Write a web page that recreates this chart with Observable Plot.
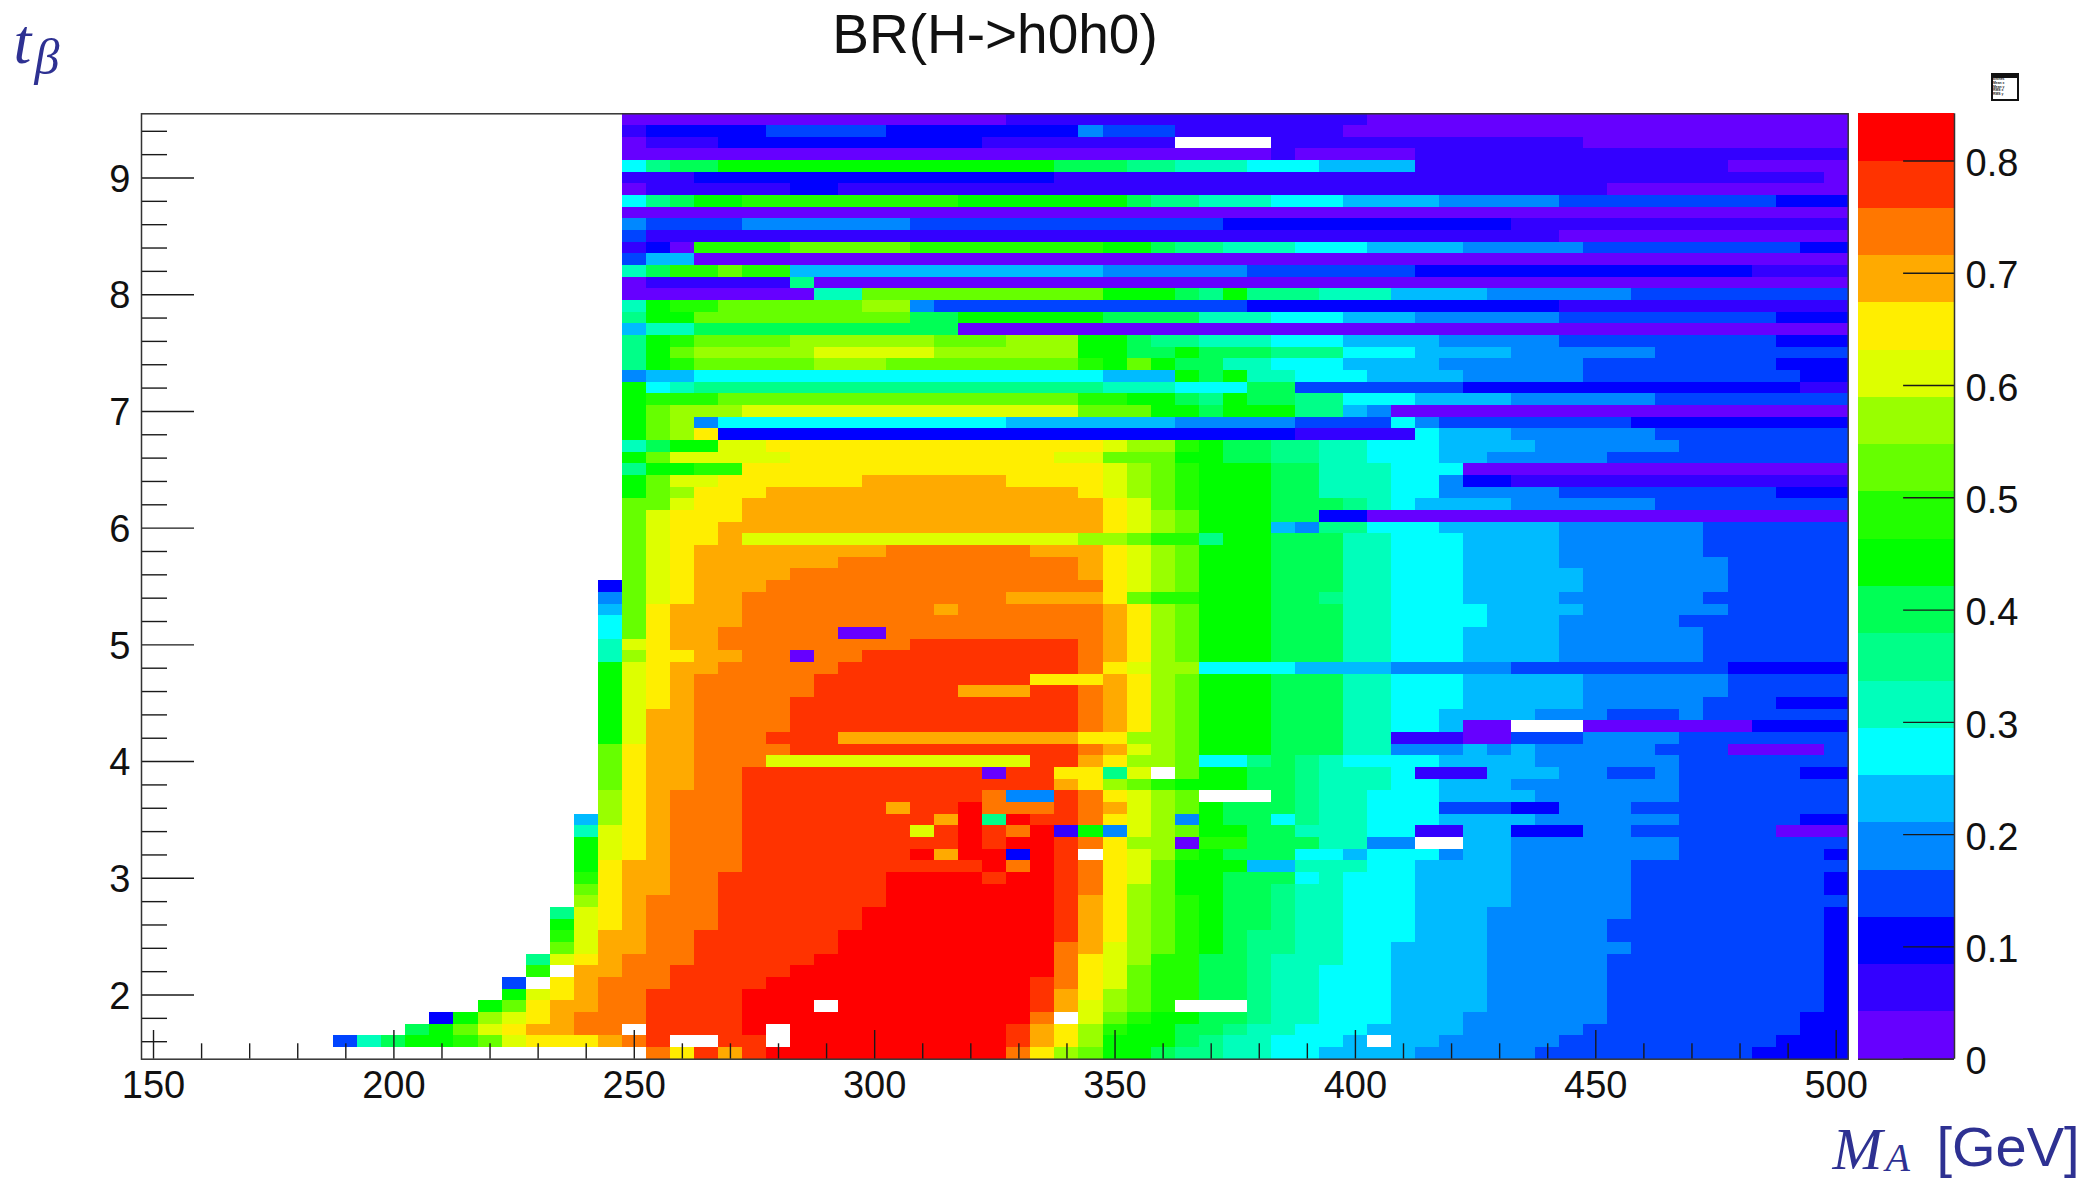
<!DOCTYPE html>
<html><head><meta charset="utf-8">
<script src="https://cdn.jsdelivr.net/npm/d3@7"></script>
<script src="https://cdn.jsdelivr.net/npm/@observablehq/plot@0.6"></script>
<style>
html,body{margin:0;padding:0;background:#fff}
#wrap{position:relative;width:2089px;height:1180px;overflow:hidden}
#wrap svg{position:absolute;top:0}
#stats{position:absolute;left:1991px;top:73px;width:24px;height:24px;border:2px solid #111;background:#fff;font:bold 3.4px "Liberation Sans";line-height:3.8px;color:#222;overflow:hidden}
#stats b{display:block;background:#111;height:3px}
</style></head><body><div id="wrap"></div>
<script>
// BR(H->h0h0): colour level per bin, run-length coded as "firstColumn:level"; "." = empty bin.
const massBins = d3.range(0,71).map(i=>150+5*i);
const tanBetaTop = 9.5, tanBetaStep = 0.1;
const nLevels = 20, brMax = 0.842;
const palette = ["#6600ff","#3300ff","#0000ff","#0044ff","#0088ff","#00bbff","#00ffff","#00ffbb","#00ff88","#00ff55",
"#00ff00","#22ff00","#66ff00","#99ff00","#ddff00","#ffee00","#ffaa00","#ff7700","#ff3300","#ff0000"];
const rows = [
"20:0 36:1 51:0",
"20:1 21:2 26:3 31:2 39:4 40:3 43:1 50:0",
"20:0 21:1 24:2 35:1 43:. 47:1 60:0",
"20:0 47:1 48:0 53:1",
"20:6 21:8 22:9 24:10 38:9 41:8 43:7 46:6 49:5 53:1 66:0",
"20:1 23:2 38:1 70:0",
"20:0 21:1 27:2 29:1 61:0",
"20:6 21:8 22:9 23:10 25:11 34:10 41:9 42:8 44:7 47:6 50:5 54:4 59:3 68:2",
"20:0",
"20:4 21:3 25:4 32:3 45:2 57:1",
"20:3 21:1 59:0",
"20:1 21:2 22:0 23:11 27:12 32:11 40:10 42:9 43:8 45:7 48:6 51:5 55:4 60:3 69:2",
"20:3 21:5 23:0",
"20:7 21:9 22:11 24:12 25:11 27:5 40:4 46:3 53:2 67:1",
"20:0 21:1 27:8 28:0",
"20:0 28:7 30:12 40:10 43:9 44:8 45:10 46:8 49:7 52:5 56:4 62:3",
"20:7 21:10 22:11 24:12 30:13 32:4 33:3 46:2 59:1",
"20:8 21:10 23:12 32:9 34:10 40:9 44:7 47:6 50:5 53:4 59:3 68:2",
"20:5 21:7 23:9 34:0",
"20:8 21:10 22:11 23:12 27:13 33:12 36:13 39:10 41:9 42:8 44:7 47:6 50:5 54:4 59:3 68:2",
"20:8 21:10 22:12 23:13 28:14 33:13 39:10 41:9 43:10 44:9 47:8 50:6 53:5 57:4 63:3",
"20:8 21:10 22:11 23:12 28:13 31:12 39:11 40:10 41:12 42:10 43:9 45:7 47:6 50:5 54:4 60:3 68:2",
"20:4 21:5 23:6 40:5 43:10 44:9 45:10 46:7 48:6 51:5 55:4 60:3 69:2",
"20:10 21:6 22:7 23:8 40:7 43:6 46:9 48:3 55:2 69:1",
"20:10 21:11 24:12 39:11 41:10 43:9 44:8 45:10 46:9 48:8 50:6 53:5 57:4 63:3",
"20:10 21:12 22:13 25:14 39:12 42:10 44:9 45:10 48:8 50:5 51:4 52:0",
"20:10 21:12 22:13 23:4 24:6 36:5 43:4 48:3 52:6 53:4 54:3 62:2",
"20:10 21:12 22:13 23:15 24:2 48:1 53:6 54:5 57:4 63:3",
"20:7 21:9 22:10 24:14 26:15 40:14 41:13 43:11 44:10 45:9 47:8 49:7 51:6 54:5 58:4 64:3",
"20:10 21:12 22:14 27:15 38:14 40:12 43:10 45:9 47:8 49:7 51:6 54:5 56:4 61:3",
"20:8 21:10 23:11 25:15 40:14 41:13 42:12 43:11 44:10 47:9 49:7 52:6 55:0",
"20:10 21:12 22:14 24:15 30:16 36:15 40:14 41:13 42:12 43:11 44:10 47:9 49:7 52:6 54:4 55:2 57:1",
"20:10 21:12 22:13 23:15 26:16 39:15 40:14 41:13 42:12 43:11 44:10 47:9 49:7 52:6 54:4 59:3 68:2",
"20:12 22:14 23:15 25:16 40:15 41:14 42:12 43:11 44:10 47:9 50:8 51:7 52:6 53:5 57:4 63:3",
"20:12 21:14 22:15 25:16 40:15 41:14 42:13 43:12 44:10 47:9 49:2 51:0",
"20:12 21:14 22:15 24:16 40:15 41:14 42:13 43:12 44:10 47:5 48:4 49:8 51:6 54:5 59:4 65:3",
"20:12 21:14 22:15 24:16 25:14 39:13 41:12 42:11 44:8 45:10 47:9 50:7 52:6 55:5 59:4 65:3",
"20:12 21:14 22:15 23:16 31:17 37:16 40:15 41:14 42:13 43:12 44:10 47:9 50:7 52:6 55:5 59:4 65:3",
"20:12 21:14 22:15 23:16 29:17 39:16 40:15 41:14 42:13 43:12 44:10 47:9 50:7 52:6 55:5 59:4 66:3",
"20:12 21:14 22:15 23:16 27:17 39:16 40:15 41:14 42:13 43:12 44:10 47:9 50:7 52:6 55:5 60:4 66:3",
"19:2 20:12 21:14 22:15 23:16 26:17 40:15 41:14 42:13 43:12 44:10 47:9 50:7 52:6 55:5 60:4 66:3",
"19:4 20:12 21:14 22:15 23:16 25:17 36:16 40:15 41:12 42:11 44:10 47:9 49:8 50:7 52:6 55:5 59:4 65:3",
"19:5 20:12 21:15 22:16 25:17 33:16 34:17 40:16 41:15 42:13 43:12 44:10 47:9 50:7 52:6 56:5 60:4 66:3",
"19:6 20:12 21:15 22:16 25:17 40:16 41:15 42:13 43:12 44:10 47:9 50:7 52:6 56:5 59:4 64:3",
"19:6 20:12 21:15 22:16 24:17 29:0 31:17 40:16 41:15 42:13 43:12 44:10 47:9 50:7 52:6 55:5 59:4 65:3",
"19:7 20:14 21:15 22:16 24:17 32:18 39:17 40:16 41:15 42:13 43:12 44:10 47:9 50:7 52:6 55:5 59:4 65:3",
"19:7 20:13 21:15 23:16 25:17 27:0 28:17 30:18 39:17 40:16 41:15 42:13 43:12 44:10 47:9 50:7 52:6 55:5 59:4 65:3",
"19:10 20:14 21:15 22:16 24:17 29:18 39:17 40:15 41:14 42:13 44:6 48:5 52:4 57:3 66:2",
"19:10 20:14 21:15 22:16 23:17 28:18 37:15 40:16 41:15 42:13 43:12 44:10 47:9 50:7 52:6 55:5 60:4 66:3",
"19:10 20:14 21:15 22:16 23:17 28:18 34:16 37:18 39:17 40:16 41:15 42:13 43:12 44:10 47:9 50:7 52:6 55:5 60:4 66:3",
"19:10 20:14 21:15 22:16 23:17 27:18 39:17 40:16 41:15 42:13 43:12 44:10 47:9 50:7 52:6 55:5 60:4 65:3 68:2",
"19:10 20:14 21:16 23:17 27:18 39:17 40:16 41:15 42:13 43:12 44:10 47:9 50:7 52:6 54:5 58:4 61:3 64:4 65:3",
"19:10 20:14 21:16 23:17 27:18 39:17 40:16 41:15 42:13 43:12 44:10 47:9 50:7 52:6 54:5 55:0 57:. 60:0 67:2",
"19:10 20:14 21:16 23:17 26:18 29:16 39:15 41:13 43:12 44:10 47:9 50:7 52:1 55:0 57:3 60:4 64:3",
"19:12 20:15 21:16 23:17 27:18 39:17 40:16 41:14 42:13 43:12 44:10 47:9 50:7 52:4 55:5 56:4 57:5 58:4 63:3 66:0 70:3",
"19:12 20:15 21:16 23:17 26:14 37:18 39:16 40:15 41:13 43:12 44:6 46:8 47:9 48:8 49:7 50:6 54:5 58:4 64:3",
"19:12 20:15 21:16 23:17 25:18 35:0 36:18 38:15 40:8 41:14 42:. 43:12 44:10 46:9 48:8 49:7 52:6 53:1 56:5 59:4 61:3 63:4 64:3 69:2",
"19:12 20:15 21:16 23:17 25:18 38:16 39:15 40:13 41:12 42:11 43:10 46:9 48:8 49:7 52:6 54:5 57:4 64:3",
"19:13 20:15 21:16 22:17 25:18 35:17 36:4 38:18 39:17 40:15 41:14 42:13 43:12 44:. 47:9 48:8 49:7 51:6 54:5 58:4 64:3",
"19:13 20:15 21:16 22:17 25:18 31:16 32:18 34:19 35:17 38:18 39:17 40:16 41:14 42:13 43:12 44:10 45:9 48:8 49:7 51:6 54:3 57:2 59:4 62:3",
"18:5 19:13 20:15 21:16 22:17 25:18 33:16 34:19 35:8 36:19 37:18 39:17 40:15 41:14 42:13 43:4 44:10 45:9 47:6 48:8 49:7 51:6 54:5 58:4 64:3 69:2",
"18:7 19:14 20:15 21:16 22:17 25:18 32:14 33:18 34:19 35:18 36:17 37:19 38:1 39:10 40:4 41:14 42:13 43:12 44:10 46:9 48:7 51:6 53:1 55:5 57:2 60:4 62:3 68:0",
"18:10 19:14 20:15 21:16 22:17 25:18 34:19 35:18 36:19 38:18 39:17 40:15 41:13 43:0 44:11 46:9 49:7 51:4 53:. 55:5 57:4 64:3",
"18:10 19:14 20:15 21:16 22:17 25:18 32:19 33:16 34:19 36:2 37:19 38:18 39:. 40:15 41:14 42:13 43:11 44:10 45:9 48:6 50:5 51:6 54:4 55:5 57:4 64:3 70:2",
"18:10 19:15 20:16 22:17 25:18 35:19 36:17 37:19 38:18 39:17 40:15 41:14 42:12 43:10 46:5 48:7 51:6 53:5 57:4 62:3",
"18:11 19:15 20:16 22:17 24:18 31:19 35:18 36:19 38:18 39:17 40:15 41:14 42:12 43:10 45:9 48:6 49:7 50:6 53:5 57:4 62:3 70:2",
"18:12 19:15 20:16 22:17 24:18 31:19 38:18 39:17 40:15 41:13 42:12 43:10 45:9 47:8 48:7 50:6 53:5 57:4 62:3 70:2",
"18:13 19:15 20:16 21:17 24:18 31:19 38:18 39:16 40:15 41:13 42:12 43:11 44:10 45:9 47:8 48:7 50:6 53:5 57:4 62:3",
"17:8 18:14 19:15 20:16 21:17 24:18 30:19 38:18 39:16 40:15 41:13 42:12 43:11 44:10 45:9 47:8 48:7 50:6 53:5 56:4 62:3 70:2",
"17:10 18:14 19:15 20:16 21:17 24:18 30:19 38:18 39:16 40:15 41:13 42:12 43:11 44:10 45:9 47:8 48:7 50:6 53:5 56:4 61:3 70:2",
"17:11 18:14 19:16 21:17 23:18 29:19 38:18 39:16 40:15 41:13 42:12 43:11 44:10 45:9 46:8 48:7 50:6 53:5 56:4 61:3 70:2",
"17:12 18:14 19:16 21:17 23:18 29:19 38:17 39:16 40:14 41:13 42:12 43:11 44:10 45:9 46:8 48:7 50:6 52:5 56:4 62:3 70:2",
"16:8 17:14 18:15 19:16 20:17 23:18 28:19 38:17 39:15 40:14 41:13 42:11 44:9 46:8 47:7 50:6 52:5 56:4 61:3 70:2",
"16:11 17:. 18:16 20:17 22:18 27:19 38:17 39:15 40:14 41:12 42:11 44:9 46:8 47:7 49:6 52:5 56:4 61:3 70:2",
"15:3 16:. 17:15 18:16 19:17 22:18 26:19 37:18 38:17 39:15 40:14 41:12 42:11 44:9 46:8 47:7 49:6 52:5 56:4 61:3 70:2",
"15:10 16:14 17:15 18:16 19:17 21:18 25:19 37:18 38:16 39:15 40:13 41:12 42:11 44:9 46:8 47:7 49:6 52:5 56:4 61:3 70:2",
"14:10 15:12 16:15 17:16 19:17 21:18 25:19 28:. 29:19 37:18 38:16 39:14 40:13 41:12 42:11 43:. 46:8 47:7 49:6 52:5 56:4 61:3 70:2",
"12:2 13:10 14:13 15:14 16:15 17:16 18:17 21:18 25:19 37:17 38:. 39:14 40:12 41:11 42:10 44:9 46:8 47:7 49:6 52:5 55:4 61:3 69:2",
"11:9 12:10 13:12 14:14 15:15 16:16 18:17 20:. 21:18 25:19 26:. 27:19 36:18 37:16 38:15 39:13 40:11 41:10 43:9 45:8 46:7 48:6 51:5 55:4 60:3 69:2",
"8:3 9:7 10:9 11:10 13:11 14:12 15:14 16:15 19:16 20:17 21:18 22:. 24:18 26:. 27:19 36:18 37:16 38:15 39:13 40:10 43:9 44:8 45:7 47:6 50:5 51:. 52:5 54:4 59:3 68:2",
"21:17 22:15 23:18 24:16 25:18 26:19 36:17 37:15 38:13 39:12 40:10 42:9 43:8 45:7 47:6 49:5 53:4 58:3 67:2"
];
const xMajor = [150,200,250,300,350,400,450,500];
const xMinor = d3.range(160,500,10).filter(v=>v%50);
const yMajor = [2,3,4,5,6,7,8,9];
const yMinor = d3.range(8,48).map(i=>i*0.2).filter(v=>Math.abs(v-Math.round(v))>0.01);
const zMajor = [0,0.1,0.2,0.3,0.4,0.5,0.6,0.7,0.8];

const step = brMax/nLevels;
const color = {type:"threshold",domain:d3.range(1,nLevels).map(i=>i*step),range:palette};
const cells = rows.flatMap((row,t)=>{
  const runs = row.split(" ").map(s=>s.split(":"));
  return runs.flatMap(([c,l],i)=>{
    if(l===".") return [];
    const end = i+1<runs.length ? +runs[i+1][0] : massBins.length;
    return d3.range(+c,end).map(k=>({ma:massBins[k],tb:tanBetaTop-t*tanBetaStep,br:(+l+0.5)*step}));
  });
});
const X0=147.5,X1=502.5,Y0=1.45,Y1=9.55;
const L=141,R=1847.7,T=113.3,B=1058.7;
const pxX=(R-L)/(X1-X0), pxY=(B-T)/(Y1-Y0);
const font='"Liberation Sans",Arial,sans-serif';
const ink="#1a1a1a", blue="#2e3192";
const label=(s,x,y,o={})=>Plot.text([s],{text:d=>d,frameAnchor:"top-left",dx:x-L,dy:y-T,lineAnchor:"bottom",textAnchor:"start",fill:blue,...o});
const main = Plot.plot({
  width:2089,height:1180,marginLeft:L,marginRight:2089-R,marginTop:T,marginBottom:1180-B,
  style:{fontFamily:font,background:"transparent",overflow:"visible"},
  x:{domain:[X0,X1],axis:null},y:{domain:[Y0,Y1],axis:null},color,
  marks:[
    Plot.rect(cells,{x1:d=>d.ma-2.5,x2:d=>d.ma+2.5,y1:d=>d.tb-0.05,y2:d=>d.tb+0.05,fill:"br",shapeRendering:"crispEdges"}),
    Plot.ruleX(xMajor,{y1:Y0,y2:Y0+28.7/pxY,stroke:ink,strokeWidth:1.4}),
    Plot.ruleX(xMinor,{y1:Y0,y2:Y0+15.4/pxY,stroke:ink,strokeWidth:1.4}),
    Plot.ruleY(yMajor,{x1:X0,x2:X0+53/pxX,stroke:ink,strokeWidth:1.4}),
    Plot.ruleY(yMinor,{x1:X0,x2:X0+26/pxX,stroke:ink,strokeWidth:1.4}),
    Plot.axisX({ticks:xMajor,tickSize:0,tickPadding:12,fontSize:38,tickFormat:d=>String(d),fill:"#111",label:null}),
    Plot.axisY({ticks:yMajor,tickSize:0,tickPadding:11,fontSize:38,dy:1.5,tickFormat:d=>String(d),fill:"#111",label:null}),
    Plot.frame({stroke:"#333",strokeWidth:1.5}),
    Plot.text(["BR(H->h0h0)"],{text:d=>d,frameAnchor:"top-left",dx:994.5-L,dy:52-T,lineAnchor:"bottom",textAnchor:"middle",fontSize:55,fill:"#111"}),
    label("t",13,62,{fontFamily:'"Liberation Serif",serif',fontStyle:"italic",fontSize:64}),
    label("β",34,73,{fontFamily:'"Liberation Serif",serif',fontStyle:"italic",fontSize:50}),
    label("M",1832,1168,{fontFamily:'"Liberation Serif",serif',fontStyle:"italic",fontSize:60}),
    label("A",1885,1170,{fontFamily:'"Liberation Serif",serif',fontStyle:"italic",fontSize:40}),
    label("[GeV]",1936,1165,{fontSize:56})
  ]
});
const bar = Plot.plot({
  width:231,height:1180,marginLeft:0,marginRight:231-96,marginTop:T,marginBottom:1180-B,
  style:{fontFamily:font,background:"transparent",overflow:"visible"},
  x:{domain:[0,1],axis:null},y:{domain:[0,brMax],axis:null},color,
  marks:[
    Plot.rect(d3.range(nLevels),{x1:0,x2:1,y1:i=>i*step,y2:i=>(i+1)*step,fill:i=>(i+0.5)*step,shapeRendering:"crispEdges"}),
    Plot.ruleY(zMajor,{x1:0.47,x2:1,stroke:ink,strokeWidth:1.4}),
    Plot.ruleX([1],{stroke:"#333",strokeWidth:1.5}),
    Plot.ruleY([0],{stroke:"#333",strokeWidth:1.5}),
    Plot.axisY({anchor:"right",ticks:zMajor,tickSize:0,tickPadding:11,fontSize:38,dy:3,tickFormat:d=>d===0?"0":d.toFixed(1),fill:"#111",label:null})
  ]
});
bar.style.left="1858px";
main.style.left="0";
const wrap=document.getElementById("wrap");
wrap.append(main,bar);
const stats=document.createElement("div");stats.id="stats";
stats.innerHTML="<b></b>Entries<br>Mean x<br>Mean y<br>RMS x<br>RMS y";
wrap.append(stats);
</script></body></html>
